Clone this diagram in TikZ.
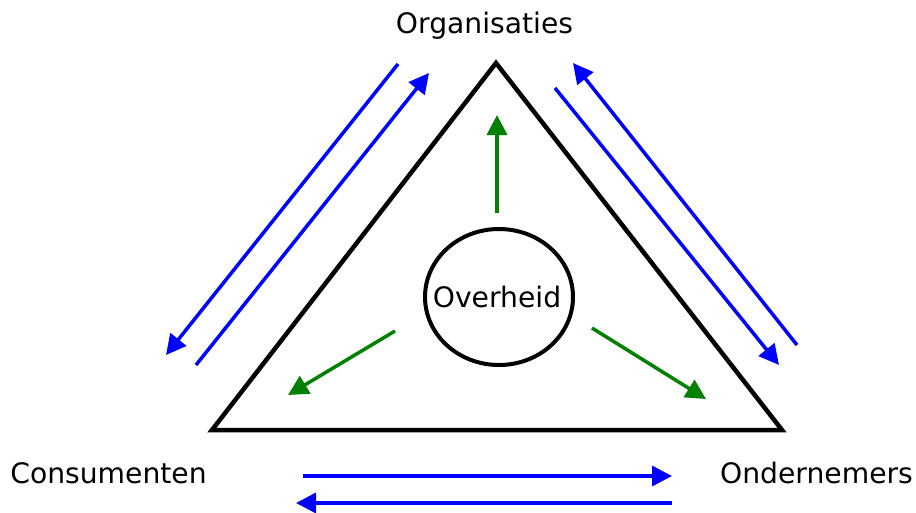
\documentclass[tikz,border=0pt]{standalone}
\usepackage{fontspec}
\setmainfont{DejaVu Sans}
\usetikzlibrary{arrows.meta}

\begin{document}
\begin{tikzpicture}[x=1pt, y=-1pt, >={Triangle[length=20pt,width=20pt]},
    word/.style={anchor=base, inner sep=0pt, font=\fontsize{28.2}{34}\selectfont},
    flow/.style={->, blue, line width=3.5pt},
    steer/.style={->, green!50!black, line width=3.5pt}]
    \useasboundingbox (0,0) rectangle (916,512);

    % driehoek
    \coordinate (top) at (496,63);
    \coordinate (left) at (212,430);
    \coordinate (right) at (782,430);
    \draw [line width=4.5pt, line join=miter] (top) -- (left) -- (right) -- cycle;

    \node [word] (org) at (484.5,33) {Organisaties};
    \node [word] (cons) at (108.5,483) {Consumenten};
    \node [word] (onder) at (816.5,483) {Ondernemers};

    \node [word, anchor=center] (overheid) at (497,297) {Overheid};
    \draw [line width=4pt] (499,297) ellipse [x radius=74, y radius=68];

    % stromen tussen de partijen
    \coordinate (lo1) at (398,64);   \coordinate (lo2) at (166,355);
    \coordinate (lo3) at (196,365);  \coordinate (lo4) at (429,73);
    \coordinate (ro1) at (797,345);  \coordinate (ro2) at (573,63);
    \coordinate (ro3) at (555,88);   \coordinate (ro4) at (779,365);
    \coordinate (bo1) at (303,476);  \coordinate (bo2) at (672,476);
    \coordinate (bo3) at (672,503);  \coordinate (bo4) at (296,503);
    \draw [flow] (lo1) -- (lo2);
    \draw [flow] (lo3) -- (lo4);
    \draw [flow] (ro1) -- (ro2);
    \draw [flow] (ro3) -- (ro4);
    \draw [flow] (bo1) -- (bo2);
    \draw [flow] (bo3) -- (bo4);

    % invloed van de overheid
    \coordinate (g1) at (497,213);  \coordinate (g2) at (497,115);
    \coordinate (g3) at (395,331);  \coordinate (g4) at (288,395);
    \coordinate (g5) at (592,328);  \coordinate (g6) at (706,399);
    \draw [steer] (g1) -- (g2);
    \draw [steer] (g3) -- (g4);
    \draw [steer] (g5) -- (g6);
\end{tikzpicture}
\end{document}
